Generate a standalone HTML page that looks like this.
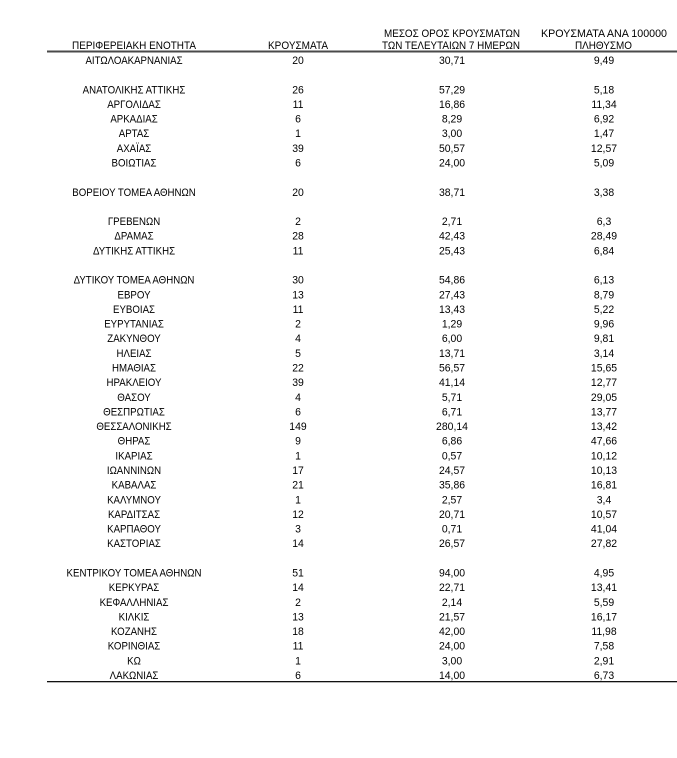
<!DOCTYPE html>
<html><head><meta charset="utf-8"><style>
html,body{margin:0;padding:0;background:#fff;}
svg{display:block;}
text{font-family:"Liberation Sans","DejaVu Sans",sans-serif;font-size:11px;fill:#000;}
</style></head><body>
<svg width="677" height="758" viewBox="0 0 677 758" xmlns="http://www.w3.org/2000/svg">
<rect width="677" height="758" fill="#fff"/>
<!-- headers -->
<text x="72" y="49" textLength="124" lengthAdjust="spacingAndGlyphs">ΠΕΡΙΦΕΡΕΙΑΚΗ ΕΝΟΤΗΤΑ</text>
<text x="268" y="49" textLength="60" lengthAdjust="spacingAndGlyphs">ΚΡΟΥΣΜΑΤΑ</text>
<text x="384" y="37" textLength="136" lengthAdjust="spacingAndGlyphs">ΜΕΣΟΣ ΟΡΟΣ ΚΡΟΥΣΜΑΤΩΝ</text>
<text x="382" y="49" textLength="138" lengthAdjust="spacingAndGlyphs">ΤΩΝ ΤΕΛΕΥΤΑΙΩΝ 7 ΗΜΕΡΩΝ</text>
<text x="541" y="37" textLength="126" lengthAdjust="spacingAndGlyphs">ΚΡΟΥΣΜΑΤΑ ΑΝΑ 100000</text>
<text x="575" y="49" textLength="57" lengthAdjust="spacingAndGlyphs">ΠΛΗΘΥΣΜΟ</text>
<rect x="47" y="50.5" width="630" height="2" fill="#4a4a4a"/>
<rect x="47" y="681" width="630" height="1.3" fill="#111"/>
<!-- column 1 -->
<g transform="scale(0.88,1)" text-anchor="middle">
<text x="152.3" y="64">ΑΙΤΩΛΟΑΚΑΡΝΑΝΙΑΣ</text>
<text x="152.3" y="93.3">ΑΝΑΤΟΛΙΚΗΣ ΑΤΤΙΚΗΣ</text>
<text x="152.3" y="107.9">ΑΡΓΟΛΙΔΑΣ</text>
<text x="152.3" y="122.6">ΑΡΚΑΔΙΑΣ</text>
<text x="152.3" y="137.2">ΑΡΤΑΣ</text>
<text x="152.3" y="151.9">ΑΧΑΪΑΣ</text>
<text x="152.3" y="166.5">ΒΟΙΩΤΙΑΣ</text>
<text x="152.3" y="195.8">ΒΟΡΕΙΟΥ ΤΟΜΕΑ ΑΘΗΝΩΝ</text>
<text x="152.3" y="225.1">ΓΡΕΒΕΝΩΝ</text>
<text x="152.3" y="239.7">ΔΡΑΜΑΣ</text>
<text x="152.3" y="254.4">ΔΥΤΙΚΗΣ ΑΤΤΙΚΗΣ</text>
<text x="152.3" y="283.6">ΔΥΤΙΚΟΥ ΤΟΜΕΑ ΑΘΗΝΩΝ</text>
<text x="152.3" y="298.3">ΕΒΡΟΥ</text>
<text x="152.3" y="312.9">ΕΥΒΟΙΑΣ</text>
<text x="152.3" y="327.6">ΕΥΡΥΤΑΝΙΑΣ</text>
<text x="152.3" y="342.2">ΖΑΚΥΝΘΟΥ</text>
<text x="152.3" y="356.9">ΗΛΕΙΑΣ</text>
<text x="152.3" y="371.5">ΗΜΑΘΙΑΣ</text>
<text x="152.3" y="386.1">ΗΡΑΚΛΕΙΟΥ</text>
<text x="152.3" y="400.8">ΘΑΣΟΥ</text>
<text x="152.3" y="415.4">ΘΕΣΠΡΩΤΙΑΣ</text>
<text x="152.3" y="430.1">ΘΕΣΣΑΛΟΝΙΚΗΣ</text>
<text x="152.3" y="444.7">ΘΗΡΑΣ</text>
<text x="152.3" y="459.4">ΙΚΑΡΙΑΣ</text>
<text x="152.3" y="474">ΙΩΑΝΝΙΝΩΝ</text>
<text x="152.3" y="488.6">ΚΑΒΑΛΑΣ</text>
<text x="152.3" y="503.3">ΚΑΛΥΜΝΟΥ</text>
<text x="152.3" y="517.9">ΚΑΡΔΙΤΣΑΣ</text>
<text x="152.3" y="532.6">ΚΑΡΠΑΘΟΥ</text>
<text x="152.3" y="547.2">ΚΑΣΤΟΡΙΑΣ</text>
<text x="152.3" y="576.5">ΚΕΝΤΡΙΚΟΥ ΤΟΜΕΑ ΑΘΗΝΩΝ</text>
<text x="152.3" y="591.1">ΚΕΡΚΥΡΑΣ</text>
<text x="152.3" y="605.8">ΚΕΦΑΛΛΗΝΙΑΣ</text>
<text x="152.3" y="620.4">ΚΙΛΚΙΣ</text>
<text x="152.3" y="635.1">ΚΟΖΑΝΗΣ</text>
<text x="152.3" y="649.7">ΚΟΡΙΝΘΙΑΣ</text>
<text x="152.3" y="664.4">ΚΩ</text>
<text x="152.3" y="679">ΛΑΚΩΝΙΑΣ</text>
</g>
<!-- numbers -->
<g transform="scale(0.95,1)" text-anchor="middle">
<g>
<text x="313.7" y="64">20</text>
<text x="313.7" y="93.3">26</text>
<text x="313.7" y="107.9">11</text>
<text x="313.7" y="122.6">6</text>
<text x="313.7" y="137.2">1</text>
<text x="313.7" y="151.9">39</text>
<text x="313.7" y="166.5">6</text>
<text x="313.7" y="195.8">20</text>
<text x="313.7" y="225.1">2</text>
<text x="313.7" y="239.7">28</text>
<text x="313.7" y="254.4">11</text>
<text x="313.7" y="283.6">30</text>
<text x="313.7" y="298.3">13</text>
<text x="313.7" y="312.9">11</text>
<text x="313.7" y="327.6">2</text>
<text x="313.7" y="342.2">4</text>
<text x="313.7" y="356.9">5</text>
<text x="313.7" y="371.5">22</text>
<text x="313.7" y="386.1">39</text>
<text x="313.7" y="400.8">4</text>
<text x="313.7" y="415.4">6</text>
<text x="313.7" y="430.1">149</text>
<text x="313.7" y="444.7">9</text>
<text x="313.7" y="459.4">1</text>
<text x="313.7" y="474">17</text>
<text x="313.7" y="488.6">21</text>
<text x="313.7" y="503.3">1</text>
<text x="313.7" y="517.9">12</text>
<text x="313.7" y="532.6">3</text>
<text x="313.7" y="547.2">14</text>
<text x="313.7" y="576.5">51</text>
<text x="313.7" y="591.1">14</text>
<text x="313.7" y="605.8">2</text>
<text x="313.7" y="620.4">13</text>
<text x="313.7" y="635.1">18</text>
<text x="313.7" y="649.7">11</text>
<text x="313.7" y="664.4">1</text>
<text x="313.7" y="679">6</text>
</g>
<g>
<text x="475.8" y="64">30,71</text>
<text x="475.8" y="93.3">57,29</text>
<text x="475.8" y="107.9">16,86</text>
<text x="475.8" y="122.6">8,29</text>
<text x="475.8" y="137.2">3,00</text>
<text x="475.8" y="151.9">50,57</text>
<text x="475.8" y="166.5">24,00</text>
<text x="475.8" y="195.8">38,71</text>
<text x="475.8" y="225.1">2,71</text>
<text x="475.8" y="239.7">42,43</text>
<text x="475.8" y="254.4">25,43</text>
<text x="475.8" y="283.6">54,86</text>
<text x="475.8" y="298.3">27,43</text>
<text x="475.8" y="312.9">13,43</text>
<text x="475.8" y="327.6">1,29</text>
<text x="475.8" y="342.2">6,00</text>
<text x="475.8" y="356.9">13,71</text>
<text x="475.8" y="371.5">56,57</text>
<text x="475.8" y="386.1">41,14</text>
<text x="475.8" y="400.8">5,71</text>
<text x="475.8" y="415.4">6,71</text>
<text x="475.8" y="430.1">280,14</text>
<text x="475.8" y="444.7">6,86</text>
<text x="475.8" y="459.4">0,57</text>
<text x="475.8" y="474">24,57</text>
<text x="475.8" y="488.6">35,86</text>
<text x="475.8" y="503.3">2,57</text>
<text x="475.8" y="517.9">20,71</text>
<text x="475.8" y="532.6">0,71</text>
<text x="475.8" y="547.2">26,57</text>
<text x="475.8" y="576.5">94,00</text>
<text x="475.8" y="591.1">22,71</text>
<text x="475.8" y="605.8">2,14</text>
<text x="475.8" y="620.4">21,57</text>
<text x="475.8" y="635.1">42,00</text>
<text x="475.8" y="649.7">24,00</text>
<text x="475.8" y="664.4">3,00</text>
<text x="475.8" y="679">14,00</text>
</g>
<g>
<text x="635.8" y="64">9,49</text>
<text x="635.8" y="93.3">5,18</text>
<text x="635.8" y="107.9">11,34</text>
<text x="635.8" y="122.6">6,92</text>
<text x="635.8" y="137.2">1,47</text>
<text x="635.8" y="151.9">12,57</text>
<text x="635.8" y="166.5">5,09</text>
<text x="635.8" y="195.8">3,38</text>
<text x="635.8" y="225.1">6,3</text>
<text x="635.8" y="239.7">28,49</text>
<text x="635.8" y="254.4">6,84</text>
<text x="635.8" y="283.6">6,13</text>
<text x="635.8" y="298.3">8,79</text>
<text x="635.8" y="312.9">5,22</text>
<text x="635.8" y="327.6">9,96</text>
<text x="635.8" y="342.2">9,81</text>
<text x="635.8" y="356.9">3,14</text>
<text x="635.8" y="371.5">15,65</text>
<text x="635.8" y="386.1">12,77</text>
<text x="635.8" y="400.8">29,05</text>
<text x="635.8" y="415.4">13,77</text>
<text x="635.8" y="430.1">13,42</text>
<text x="635.8" y="444.7">47,66</text>
<text x="635.8" y="459.4">10,12</text>
<text x="635.8" y="474">10,13</text>
<text x="635.8" y="488.6">16,81</text>
<text x="635.8" y="503.3">3,4</text>
<text x="635.8" y="517.9">10,57</text>
<text x="635.8" y="532.6">41,04</text>
<text x="635.8" y="547.2">27,82</text>
<text x="635.8" y="576.5">4,95</text>
<text x="635.8" y="591.1">13,41</text>
<text x="635.8" y="605.8">5,59</text>
<text x="635.8" y="620.4">16,17</text>
<text x="635.8" y="635.1">11,98</text>
<text x="635.8" y="649.7">7,58</text>
<text x="635.8" y="664.4">2,91</text>
<text x="635.8" y="679">6,73</text>
</g>
</g>
</svg>
</body></html>
